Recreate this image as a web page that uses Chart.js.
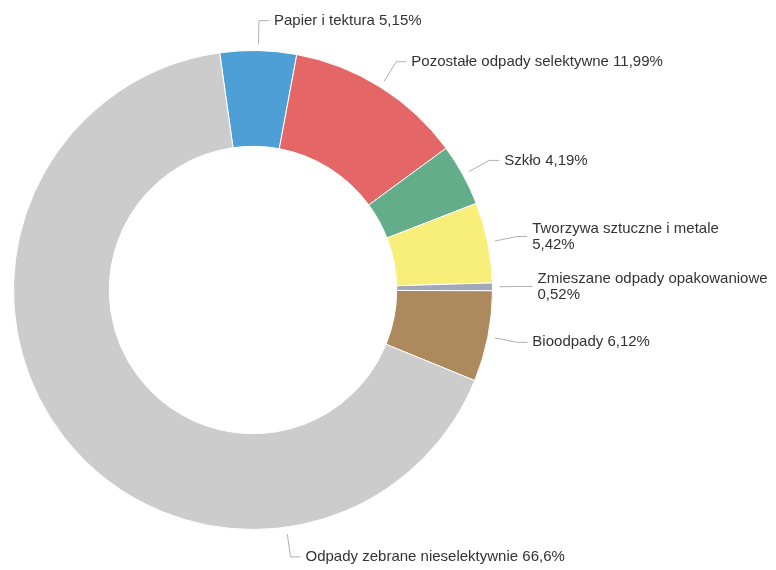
<!DOCTYPE html>
<html>
<head>
<meta charset="utf-8">
<script src="https://cdn.jsdelivr.net/npm/chart.js@4.4.1/dist/chart.umd.min.js"></script>
<style>
  body { margin: 0; background: #fff; }
  #wrap { width: 776px; height: 570px; position: relative; }
</style>
</head>
<body>
<div id="wrap"><canvas id="myChart"></canvas></div>
<script>
const labels = [
    'Papier i tektura',
    'Pozostałe odpady selektywne',
    'Szkło',
    'Tworzywa sztuczne i metale',
    'Zmieszane odpady opakowaniowe',
    'Bioodpady',
    'Odpady zebrane nieselektywnie'
];
const values = [5.15, 11.99, 4.19, 5.42, 0.52, 6.12, 66.6];
const colors = ['#4e9fd6', '#e56666', '#63ad8a', '#f8ee7a', '#a2a8b9', '#ad8a5e', '#cccccc'];

// labels that break the value onto a second line
const wrapped = [3, 4];
// connector angle overrides (degrees from top, clockwise), null = slice middle
const labelAngles = [null, null, null, null, null, null, 172];

const fmt = v => String(v).replace('.', ',') + '%';

const labelPlugin = {
    id: 'pieLabels',
    afterDraw: (chart) => {
        const ctx = chart.ctx;
        const meta = chart.getDatasetMeta(0);
        ctx.save();
        ctx.font = '15px "Liberation Sans", Arial, sans-serif';
        ctx.textBaseline = 'middle';
        meta.data.forEach((arc, i) => {
            const { x, y, startAngle, endAngle, outerRadius } = arc.getProps(['x', 'y', 'startAngle', 'endAngle', 'outerRadius'], true);
            let a = (startAngle + endAngle) / 2;
            if (labelAngles[i] !== null) a = (labelAngles[i] - 90) * Math.PI / 180;
            const right = Math.cos(a) >= 0;
            const sx = x + (outerRadius + 7) * Math.cos(a);
            const sy = y + (outerRadius + 7) * Math.sin(a);
            const ex = x + (outerRadius + 30) * Math.cos(a);
            const ey = y + (outerRadius + 30) * Math.sin(a);
            const hx = ex + (right ? 10 : -10);

            ctx.strokeStyle = '#b0b0b0';
            ctx.lineWidth = 1;
            ctx.beginPath();
            ctx.moveTo(sx, sy);
            ctx.lineTo(ex, ey);
            ctx.lineTo(hx, ey);
            ctx.stroke();

            ctx.fillStyle = '#333333';
            ctx.textAlign = right ? 'left' : 'right';
            const tx = hx + (right ? 5 : -5);
            if (wrapped.includes(i)) {
                ctx.fillText(labels[i], tx, ey - 8);
                ctx.fillText(fmt(values[i]), tx, ey + 8);
            } else {
                ctx.fillText(labels[i] + ' ' + fmt(values[i]), tx, ey);
            }
        });
        ctx.restore();
    }
};

const config = {
    type: 'doughnut',
    data: {
        labels: labels,
        datasets: [{
            data: values,
            backgroundColor: colors,
            borderColor: '#ffffff',
            borderWidth: 1
        }]
    },
    options: {
        responsive: true,
        maintainAspectRatio: false,
        animation: false,
        cutout: '60%',
        rotation: -8,
        layout: { padding: { left: 13, top: 50, right: 283, bottom: 40 } },
        plugins: {
            legend: { display: false },
            tooltip: { enabled: false }
        }
    },
    plugins: [labelPlugin]
};

const ctx = document.getElementById('myChart').getContext('2d');
new Chart(ctx, config);
</script>
</body>
</html>
